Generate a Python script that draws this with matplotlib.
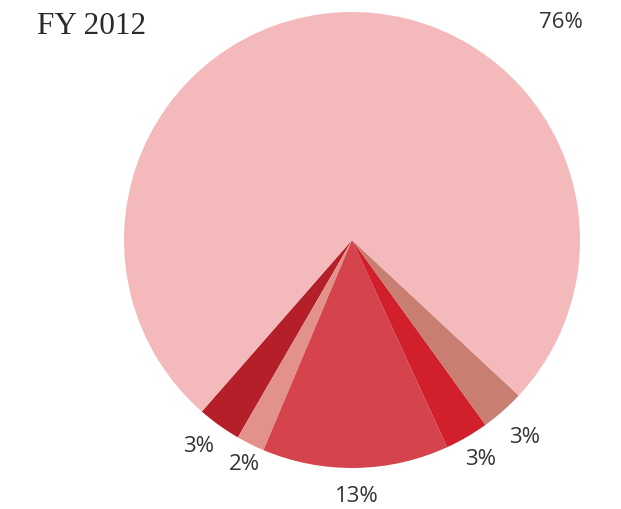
import numpy as np
import matplotlib.pyplot as plt

W, H = 621, 510

# slices, counter-clockwise starting at the lower-left
labels = ["3%", "2%", "13%", "3%", "3%", "76%"]
values = [3.1, 2.0, 13.2, 3.1, 3.1, 75.5]
colors = ["#b41f29", "#e3928b", "#d5444d", "#d11f2c", "#c97e72", "#f4b9bb"]

# label positions in pixels (x, y from top)
label_pos = [(199, 447), (244, 465), (357, 497), (481, 460), (525, 438), (561, 23)]

fig = plt.figure(figsize=(W / 100, H / 100), dpi=100)
ax = fig.add_axes([0, 0, 1, 1])

ax.pie(values, colors=colors, startangle=-131.2, counterclock=True,
       center=(352, H - 241), radius=228,
       wedgeprops=dict(linewidth=0))
ax.set_xlim(0, W)
ax.set_ylim(0, H)
ax.set_aspect("equal")
ax.axis("off")

for lab, (x, y) in zip(labels, label_pos):
    ax.text(x, H - y, lab, ha="center", va="center", fontsize=16,
            family="Open Sans", color="#333333")

ax.text(37, H - 27, "FY 2012", ha="left", va="center", fontsize=22.5,
        family="Liberation Serif", color="#2a2a2a")

fig.savefig("out.png", dpi=100)
